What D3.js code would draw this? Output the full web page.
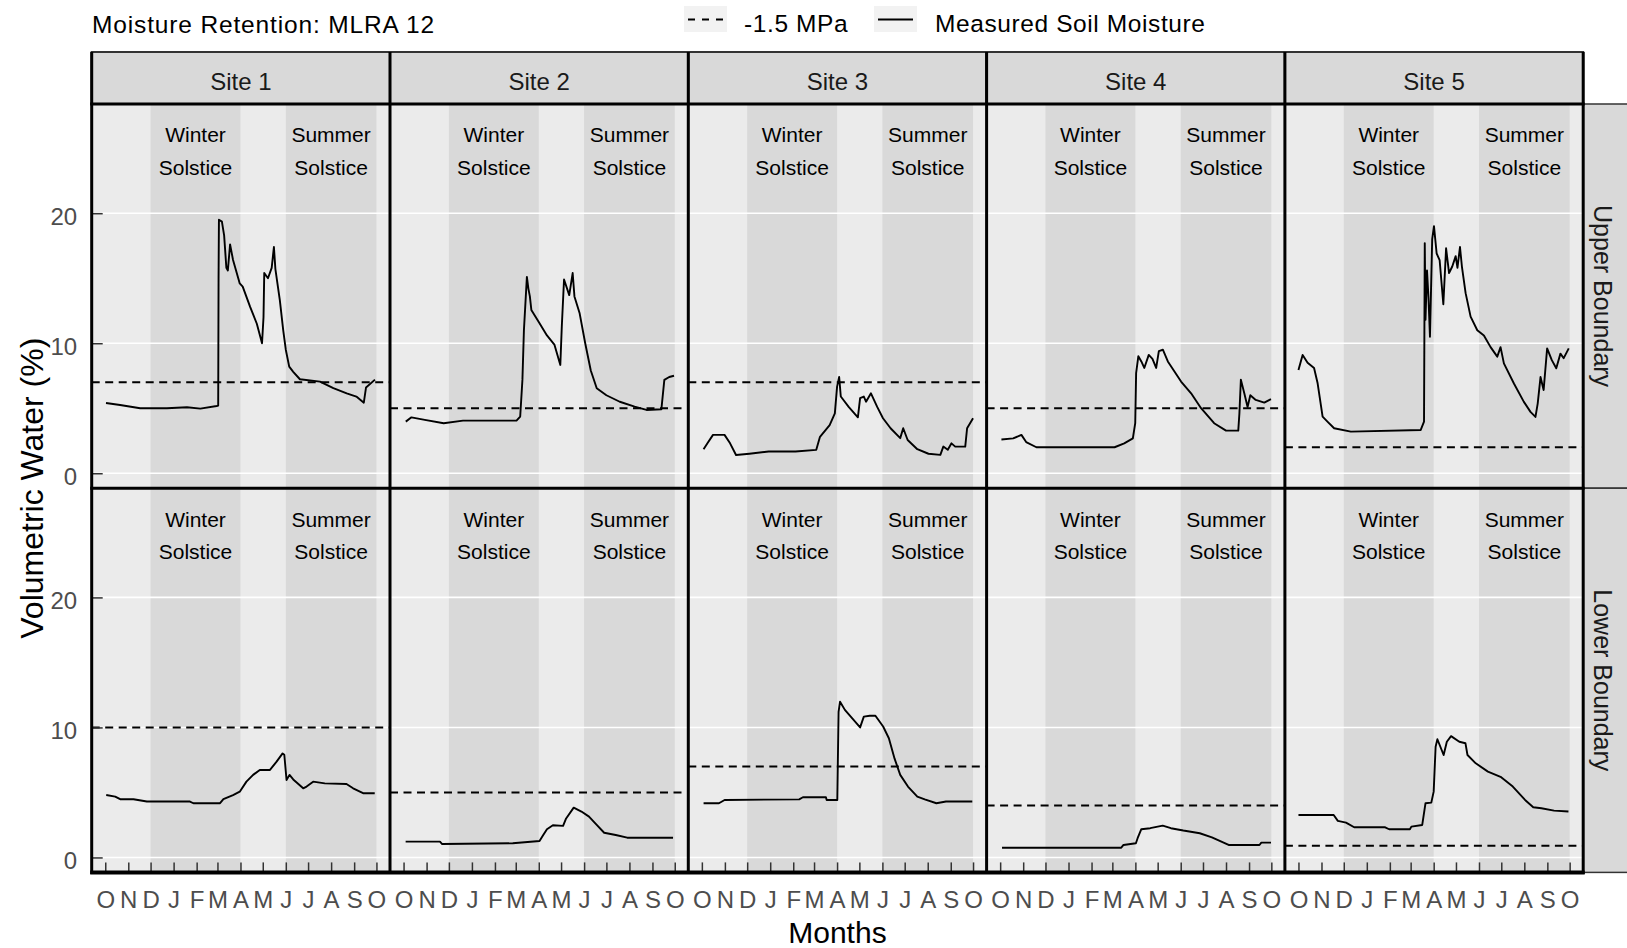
<!DOCTYPE html>
<html><head><meta charset="utf-8">
<script src="https://cdn.jsdelivr.net/npm/d3@7"></script>
<style>
html,body{margin:0;padding:0;background:#fff;}
svg{display:block;font-family:"Liberation Sans",Arial,Helvetica,sans-serif;}
</style></head><body>
<svg id="chart" width="1627" height="948"></svg>
<script>
// ---------------- data ----------------
const chartTitle = "Moisture Retention: MLRA 12";
const sites = ["Site 1", "Site 2", "Site 3", "Site 4", "Site 5"];
const boundaries = ["Upper Boundary", "Lower Boundary"];
const monthLabels = ["O","N","D","J","F","M","A","M","J","J","A","S","O"];
const yTickValues = [0, 10, 20];
const legendLabels = ["-1.5 MPa", "Measured Soil Moisture"];
const seasonBandStarts = ["2013-12-01", "2014-06-01"];
const seasonBandEnds = ["2014-04-01", "2014-10-01"];
const seasonBandLabels = [["Winter", "Solstice"], ["Summer", "Solstice"]];
// -1.5 MPa threshold (volumetric water %), per site
const thresholdUpper = [7.0, 5.0, 7.0, 5.0, 2.0];
const thresholdLower = [10.0, 5.0, 7.0, 4.0, 0.9];
// measured soil moisture: [days since 2013-10-01, volumetric water %]
const upper1 = [[1,5.4],[20,5.25],[47,5.0],[83,5.0],[110,5.08],[128,4.97],[150,5.17],[152,5.2],[152.5,15.0],[153,19.5],[157,19.35],[160,18.3],[163,15.8],[165,15.6],[168,17.6],[172,16.4],[181,14.6],[185,14.35],[195,12.8],[204,11.5],[211,10.0],[213,12.0],[214,15.4],[219,15.0],[224,15.8],[227,17.4],[229,15.7],[235,13.3],[239.5,11.0],[243,9.5],[247.6,8.2],[253,7.8],[262,7.23],[289,7.05],[307,6.54],[325,6.15],[338,5.9],[348,5.43],[351,6.6],[363,7.2]];
const upper2 = [[3,3.97],[10.6,4.3],[28.6,4.1],[54,3.85],[80,4.05],[152,4.05],[157,4.36],[160,7.2],[162,11.0],[166,15.1],[168,14.2],[170,13.6],[172,12.56],[183,11.54],[193,10.6],[203,9.9],[211,8.33],[213,11.3],[216,14.9],[223,13.7],[227.6,15.4],[230,13.6],[237,12.3],[244.5,10.0],[252,7.9],[260,6.54],[273,6.0],[291,5.5],[311,5.13],[327,4.87],[347,4.92],[351,7.18],[357.6,7.4],[364,7.5]];
const upper3 = [[2.3,1.85],[7.5,2.3],[15,2.95],[30.5,2.95],[38,2.3],[46,1.4],[64,1.5],[90,1.67],[126,1.67],[154,1.8],[159,2.8],[172,3.7],[179,4.6],[182,6.66],[184.8,7.4],[187,5.9],[197.6,5.1],[210,4.3],[213,5.77],[218,5.9],[221,5.5],[227.6,6.15],[236,5.1],[243.8,4.23],[254,3.46],[267,2.7],[271,3.46],[277,2.56],[290,1.85],[305,1.5],[321,1.41],[325,2.05],[331,1.8],[336,2.3],[341,2.05],[354.5,2.05],[357,3.46],[365,4.23]];
const upper4 = [[1.7,2.6],[17.5,2.68],[28.6,2.95],[35,2.4],[48.8,2.0],[154,2.0],[167,2.3],[178.6,2.68],[181.8,3.85],[183,7.7],[186,9.0],[190,8.6],[194,8.1],[200,9.1],[205,8.8],[210,8.1],[213.6,9.4],[219,9.5],[225.7,8.6],[243.5,7.05],[257,6.15],[270.4,5.0],[288,3.85],[304,3.28],[320.5,3.28],[322,4.6],[324,7.2],[328.6,6.15],[333,5.1],[336.7,6.0],[344,5.64],[355.5,5.43],[364.5,5.7]];
const upper5 = [[0,7.95],[5.6,9.1],[12.3,8.5],[21,8.1],[25.8,6.92],[32.5,4.35],[39,3.97],[48,3.46],[70.5,3.2],[164.6,3.33],[169,3.97],[170,17.7],[171,11.8],[173,15.6],[175,13.5],[177,10.5],[180,18.0],[182.4,19.0],[186,16.9],[190,16.4],[195,13.0],[198.7,17.3],[202.7,15.4],[207,15.9],[211.6,16.7],[214,15.8],[217.4,17.4],[220,15.9],[225,13.85],[231.7,12.05],[240.7,11.0],[249.6,10.6],[258.6,9.7],[267.6,8.97],[272,9.7],[276.5,8.45],[290,6.9],[303.4,5.49],[312.3,4.72],[319,4.33],[322,5.36],[325.8,7.4],[330,6.4],[334.7,9.6],[341,8.7],[347,8.07],[352.6,9.2],[357,8.85],[363.8,9.6]];
const lower1 = [[1.3,4.8],[13.4,4.68],[20,4.48],[38,4.48],[56,4.3],[114,4.3],[118.6,4.17],[154.5,4.17],[159,4.48],[172,4.8],[181,5.06],[190,5.83],[199,6.35],[208,6.73],[221.7,6.73],[230.6,7.37],[238.7,8.0],[241,7.9],[244,5.96],[248,6.35],[253,6.0],[266.4,5.32],[271,5.45],[279.8,5.83],[295.5,5.7],[324.7,5.65],[333.6,5.32],[347,4.94],[362.7,4.94]];
const lower2 = [[2.8,1.22],[49,1.22],[52,1.03],[147,1.09],[183,1.27],[188,1.73],[193,2.17],[201,2.48],[214.7,2.43],[218.8,3.0],[229,3.83],[239.4,3.53],[249.6,3.14],[260,2.5],[270,1.9],[285.6,1.73],[301,1.52],[362.7,1.52]];
const lower3 = [[2.3,4.17],[23,4.17],[30.6,4.42],[131,4.47],[136,4.63],[167,4.63],[168,4.42],[182.3,4.42],[184,11.2],[186,11.98],[192.5,11.35],[213,10.0],[218,10.83],[226,10.9],[233.6,10.9],[244,10.07],[251.7,9.17],[259.4,7.6],[267,6.35],[277.4,5.45],[290,4.68],[300,4.47],[315.7,4.17],[328.6,4.3],[364,4.3]];
const lower4 = [[2.5,0.75],[163,0.75],[166,0.96],[182.7,1.09],[185,1.48],[190,2.17],[202,2.25],[218.8,2.45],[229.8,2.25],[246.5,2.07],[268.7,1.86],[285,1.55],[307.5,0.96],[349,0.96],[351.5,1.14],[364.5,1.14]];
const lower5 = [[0,3.27],[47.4,3.27],[53,2.81],[64,2.68],[75,2.32],[116.7,2.32],[122,2.17],[150,2.17],[152,2.37],[166.6,2.5],[171,4.17],[178.8,4.22],[182,5.06],[184.6,8.52],[187,9.09],[195.4,7.88],[199.7,8.9],[205.4,9.33],[216.5,8.9],[224.8,8.78],[227.5,7.88],[238.6,7.24],[255,6.6],[272,6.2],[288.5,5.45],[305,4.42],[316,3.86],[327,3.78],[344,3.6],[363.4,3.53]];

const upperSeries = [upper1, upper2, upper3, upper4, upper5];
const lowerSeries = [lower1, lower2, lower3, lower4, lower5];
const thresholds = [thresholdUpper, thresholdLower];
const seriesRows = [upperSeries, lowerSeries];

// ---------------- layout ----------------
const svg = d3.select("#chart");
const panelX0 = 91.7, panelW = 298.3;
const stripTop = 52, panelTop = 104, rowH = 384.2;
const rightStripW = 60;
const fontTxt = 24;

const dayMs = 864e5;
const startDate = Date.UTC(2013, 9, 1);
const toDate = d => new Date(startDate + d * dayMs);
const parse = d3.utcParse("%Y-%m-%d");

const x = d3.scaleUtc().domain([toDate(-18.25), toDate(365 + 18.25)]).range([0, panelW]);
const y = d3.scaleLinear().domain([-1.15, 28.4]).range([rowH, 0]);
const monthTicks = d3.utcMonth.range(new Date(startDate), toDate(366));

const line = d3.line().x(p => x(toDate(p[0]))).y(p => y(p[1]));

// title
svg.append("text").attr("x", 92).attr("y", 33)
  .attr("font-size", 24.5).attr("letter-spacing", "0.85px").attr("fill", "#000")
  .text(chartTitle);

// legend
const leg = svg.append("g");
leg.append("rect").attr("x", 684).attr("y", 6).attr("width", 43).attr("height", 26).attr("fill", "#F2F2F2");
leg.append("line").attr("x1", 688).attr("x2", 724).attr("y1", 19.5).attr("y2", 19.5)
  .attr("stroke", "#000").attr("stroke-width", 2).attr("stroke-dasharray", "7,7");
leg.append("text").attr("x", 744).attr("y", 31.5).attr("font-size", 24.5).attr("letter-spacing", "0.6px")
  .attr("fill", "#000").text(legendLabels[0]);
leg.append("rect").attr("x", 874).attr("y", 6).attr("width", 43).attr("height", 26).attr("fill", "#F2F2F2");
leg.append("line").attr("x1", 878).attr("x2", 913).attr("y1", 19.5).attr("y2", 19.5)
  .attr("stroke", "#000").attr("stroke-width", 2);
leg.append("text").attr("x", 935).attr("y", 31.5).attr("font-size", 24.5).attr("letter-spacing", "0.6px")
  .attr("fill", "#000").text(legendLabels[1]);

// strips (top)
sites.forEach((s, i) => {
  const gx = panelX0 + i * panelW;
  svg.append("rect").attr("x", gx).attr("y", stripTop).attr("width", panelW).attr("height", panelTop - stripTop)
    .attr("fill", "#D9D9D9").attr("stroke", "#333").attr("stroke-width", 2);
  svg.append("text").attr("x", gx + panelW / 2).attr("y", 89.5).attr("text-anchor", "middle")
    .attr("font-size", fontTxt).attr("fill", "#1A1A1A").text(s);
});

// right strips
boundaries.forEach((b, r) => {
  const top = panelTop + r * rowH;
  const rx = panelX0 + sites.length * panelW;
  svg.append("rect").attr("x", rx).attr("y", top).attr("width", rightStripW).attr("height", rowH)
    .attr("fill", "#D9D9D9").attr("stroke", "#333").attr("stroke-width", 1.5);
  svg.append("text").attr("transform", `translate(${rx + 11},${top + rowH / 2}) rotate(90)`)
    .attr("text-anchor", "middle").attr("font-size", 25).attr("fill", "#1A1A1A").text(b);
});

// panels
seriesRows.forEach((rowSeries, r) => {
  const top = panelTop + r * rowH;
  rowSeries.forEach((data, i) => {
    const g = svg.append("g").attr("transform", `translate(${panelX0 + i * panelW},${top})`);
    g.append("rect").attr("width", panelW).attr("height", rowH).attr("fill", "#EBEBEB");
    // season bands
    seasonBandStarts.forEach((st, k) => {
      const x0 = x(parse(st)), x1 = x(parse(seasonBandEnds[k]));
      g.append("rect").attr("x", x0).attr("y", 0).attr("width", x1 - x0).attr("height", rowH).attr("fill", "#D9D9D9");
    });
    // grid
    g.selectAll("line.grid").data(yTickValues).join("line").attr("class", "grid")
      .attr("x1", 0).attr("x2", panelW).attr("y1", d => y(d)).attr("y2", d => y(d))
      .attr("stroke", "#FFFFFF").attr("stroke-width", 1.6);
    // season labels
    seasonBandStarts.forEach((st, k) => {
      const mid = new Date((parse(st).getTime() + parse(seasonBandEnds[k]).getTime()) / 2);
      const t = g.append("text").attr("x", x(mid)).attr("y", y(25.45))
        .attr("text-anchor", "middle").attr("font-size", 21).attr("fill", "#000");
      seasonBandLabels[k].forEach((ln, j) => {
        t.append("tspan").attr("x", x(mid)).attr("dy", j === 0 ? 0 : "1.56em").text(ln);
      });
    });
    // threshold
    g.append("line").attr("x1", 0).attr("x2", panelW)
      .attr("y1", y(thresholds[r][i])).attr("y2", y(thresholds[r][i]))
      .attr("stroke", "#000").attr("stroke-width", 2).attr("stroke-dasharray", "8,5.5");
    // measured
    g.append("path").datum(data).attr("d", line).attr("fill", "none")
      .attr("stroke", "#000").attr("stroke-width", 1.9).attr("stroke-linejoin", "round");

    // y axis (first column)
    if (i === 0) {
      const ya = g.append("g").call(d3.axisLeft(y).tickValues(yTickValues).tickSize(-11).tickPadding(14.5));
      ya.select(".domain").remove();
      ya.selectAll(".tick line").attr("stroke", "#333").attr("stroke-width", 1.5);
      ya.selectAll(".tick text").attr("font-size", fontTxt).attr("fill", "#4D4D4D")
        .attr("font-family", "Liberation Sans, Arial, sans-serif").attr("dy", "0.45em");
    }
    // x axis (bottom row)
    if (r === seriesRows.length - 1) {
      const xa = g.append("g").attr("transform", `translate(0,${rowH})`)
        .call(d3.axisBottom(x).tickValues(monthTicks).tickSize(-10).tickPadding(18.6)
          .tickFormat((d, j) => monthLabels[j]));
      xa.select(".domain").remove();
      xa.selectAll(".tick line").attr("stroke", "#333").attr("stroke-width", 1.5);
      xa.selectAll(".tick text").attr("font-size", fontTxt).attr("fill", "#4D4D4D")
        .attr("font-family", "Liberation Sans, Arial, sans-serif");
    }
  });
});

// panel borders
const xEdges = d3.range(sites.length + 1).map(i => panelX0 + i * panelW);
const yEdges = d3.range(seriesRows.length + 1).map(r => panelTop + r * rowH);
svg.selectAll("line.vb").data(xEdges).join("line").attr("class", "vb")
  .attr("x1", d => d).attr("x2", d => d).attr("y1", stripTop).attr("y2", yEdges[yEdges.length - 1] + 1.5)
  .attr("stroke", "#000").attr("stroke-width", 3);
svg.selectAll("line.hb").data(yEdges).join("line").attr("class", "hb")
  .attr("x1", xEdges[0] - 1.5).attr("x2", xEdges[xEdges.length - 1] + 1.5)
  .attr("y1", d => d).attr("y2", d => d)
  .attr("stroke", "#000").attr("stroke-width", (d, k) => k === yEdges.length - 1 ? 4 : 3);

// axis titles
svg.append("text").attr("x", (xEdges[0] + xEdges[xEdges.length - 1]) / 2).attr("y", 943)
  .attr("text-anchor", "middle").attr("font-size", 30).attr("fill", "#000").text("Months");
svg.append("text").attr("transform", `translate(43,${(yEdges[0] + yEdges[yEdges.length - 1]) / 2}) rotate(-90)`)
  .attr("text-anchor", "middle").attr("font-size", 32).attr("fill", "#000").text("Volumetric Water (%)");
</script>
</body></html>
